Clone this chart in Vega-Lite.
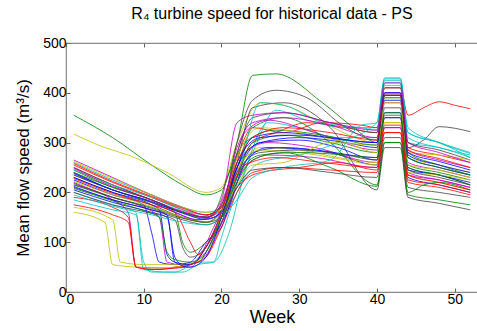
{
"$schema":"https://vega.github.io/schema/vega-lite/v6.json",
"width":412,"height":249,
"autosize":{"type":"none"},
"padding":{"left":66,"top":43,"right":0,"bottom":39},
"background":"white",
"config":{"font":"Liberation Sans","view":{"stroke":"#888888","strokeWidth":1.2}},
"title":{"text":"R₄ turbine speed for historical data - PS","fontSize":16,"fontWeight":"normal","color":"black","offset":14,"anchor":"middle"},
"data":{"values":[
{"s":1,"w":1,"v":240},{"s":1,"w":6,"v":205},{"s":1,"w":11,"v":180},{"s":1,"w":14,"v":160},{"s":1,"w":17,"v":145},{"s":1,"w":19,"v":150},{"s":1,"w":21,"v":190},{"s":1,"w":23,"v":270},{"s":1,"w":25,"v":300},{"s":1,"w":30,"v":305},{"s":1,"w":35,"v":290},{"s":1,"w":40,"v":265},{"s":1,"w":41,"v":360},{"s":1,"w":43,"v":360},{"s":1,"w":44,"v":245},{"s":1,"w":48,"v":235},{"s":1,"w":52,"v":215},
{"s":2,"w":1,"v":355},{"s":2,"w":6,"v":310},{"s":2,"w":11,"v":255},{"s":2,"w":15,"v":215},{"s":2,"w":18,"v":195},{"s":2,"w":20,"v":205},{"s":2,"w":22,"v":300},{"s":2,"w":24,"v":435},{"s":2,"w":27,"v":438},{"s":2,"w":33,"v":380},{"s":2,"w":37,"v":330},{"s":2,"w":40,"v":300},{"s":2,"w":41,"v":395},{"s":2,"w":43,"v":395},{"s":2,"w":44,"v":280},{"s":2,"w":48,"v":255},{"s":2,"w":52,"v":235},
{"s":3,"w":1,"v":250},{"s":3,"w":6,"v":215},{"s":3,"w":11,"v":185},{"s":3,"w":15,"v":160},{"s":3,"w":18,"v":150},{"s":3,"w":20,"v":165},{"s":3,"w":22,"v":240},{"s":3,"w":24,"v":300},{"s":3,"w":27,"v":320},{"s":3,"w":31,"v":340},{"s":3,"w":36,"v":330},{"s":3,"w":40,"v":320},{"s":3,"w":41,"v":410},{"s":3,"w":43,"v":410},{"s":3,"w":44,"v":355},{"s":3,"w":46,"v":370},{"s":3,"w":48,"v":382},{"s":3,"w":50,"v":375},{"s":3,"w":52,"v":368},
{"s":4,"w":1,"v":200},{"s":4,"w":6,"v":175},{"s":4,"w":9,"v":160},{"s":4,"w":10,"v":45},{"s":4,"w":13,"v":40},{"s":4,"w":15,"v":40},{"s":4,"w":17,"v":55},{"s":4,"w":19,"v":60},{"s":4,"w":21,"v":120},{"s":4,"w":23,"v":240},{"s":4,"w":26,"v":340},{"s":4,"w":30,"v":330},{"s":4,"w":35,"v":310},{"s":4,"w":40,"v":310},{"s":4,"w":41,"v":420},{"s":4,"w":43,"v":420},{"s":4,"w":44,"v":300},{"s":4,"w":48,"v":290},{"s":4,"w":52,"v":270},
{"s":5,"w":1,"v":215},{"s":5,"w":6,"v":185},{"s":5,"w":8,"v":160},{"s":5,"w":9,"v":50},{"s":5,"w":13,"v":48},{"s":5,"w":16,"v":50},{"s":5,"w":19,"v":130},{"s":5,"w":21,"v":200},{"s":5,"w":23,"v":280},{"s":5,"w":26,"v":300},{"s":5,"w":32,"v":290},{"s":5,"w":40,"v":260},{"s":5,"w":41,"v":330},{"s":5,"w":43,"v":330},{"s":5,"w":44,"v":240},{"s":5,"w":48,"v":225},{"s":5,"w":52,"v":210},
{"s":6,"w":1,"v":317},{"s":6,"w":5,"v":290},{"s":6,"w":8,"v":275},{"s":6,"w":13,"v":240},{"s":6,"w":18,"v":200},{"s":6,"w":20,"v":210},{"s":6,"w":22,"v":300},{"s":6,"w":25,"v":380},{"s":6,"w":28,"v":375},{"s":6,"w":33,"v":340},{"s":6,"w":40,"v":300},{"s":6,"w":41,"v":390},{"s":6,"w":43,"v":390},{"s":6,"w":44,"v":270},{"s":6,"w":48,"v":255},{"s":6,"w":52,"v":240},
{"s":7,"w":1,"v":230},{"s":7,"w":6,"v":200},{"s":7,"w":11,"v":175},{"s":7,"w":15,"v":150},{"s":7,"w":18,"v":140},{"s":7,"w":20,"v":165},{"s":7,"w":22,"v":300},{"s":7,"w":24,"v":385},{"s":7,"w":27,"v":405},{"s":7,"w":31,"v":390},{"s":7,"w":36,"v":330},{"s":7,"w":40,"v":305},{"s":7,"w":41,"v":400},{"s":7,"w":43,"v":400},{"s":7,"w":44,"v":290},{"s":7,"w":46,"v":305},{"s":7,"w":48,"v":332},{"s":7,"w":52,"v":322},
{"s":8,"w":1,"v":225},{"s":8,"w":6,"v":195},{"s":8,"w":10,"v":175},{"s":8,"w":11,"v":120},{"s":8,"w":12,"v":60},{"s":8,"w":14,"v":55},{"s":8,"w":16,"v":60},{"s":8,"w":18,"v":100},{"s":8,"w":20,"v":130},{"s":8,"w":22,"v":220},{"s":8,"w":24,"v":280},{"s":8,"w":28,"v":290},{"s":8,"w":34,"v":280},{"s":8,"w":40,"v":255},{"s":8,"w":41,"v":350},{"s":8,"w":43,"v":350},{"s":8,"w":44,"v":230},{"s":8,"w":48,"v":215},{"s":8,"w":52,"v":200},
{"s":9,"w":1,"v":245},{"s":9,"w":6,"v":210},{"s":9,"w":11,"v":185},{"s":9,"w":15,"v":160},{"s":9,"w":18,"v":150},{"s":9,"w":20,"v":170},{"s":9,"w":22,"v":250},{"s":9,"w":24,"v":330},{"s":9,"w":28,"v":350},{"s":9,"w":34,"v":300},{"s":9,"w":40,"v":215},{"s":9,"w":41,"v":300},{"s":9,"w":43,"v":300},{"s":9,"w":44,"v":195},{"s":9,"w":48,"v":185},{"s":9,"w":52,"v":175},
{"s":10,"w":1,"v":190},{"s":10,"w":6,"v":170},{"s":10,"w":8,"v":150},{"s":10,"w":9,"v":50},{"s":10,"w":12,"v":45},{"s":10,"w":14,"v":50},{"s":10,"w":16,"v":55},{"s":10,"w":18,"v":90},{"s":10,"w":20,"v":150},{"s":10,"w":22,"v":210},{"s":10,"w":25,"v":240},{"s":10,"w":30,"v":250},{"s":10,"w":35,"v":260},{"s":10,"w":40,"v":245},{"s":10,"w":41,"v":320},{"s":10,"w":43,"v":320},{"s":10,"w":44,"v":225},{"s":10,"w":48,"v":215},{"s":10,"w":52,"v":200},
{"s":11,"w":1,"v":260},{"s":11,"w":6,"v":225},{"s":11,"w":11,"v":195},{"s":11,"w":15,"v":170},{"s":11,"w":18,"v":160},{"s":11,"w":20,"v":170},{"s":11,"w":22,"v":210},{"s":11,"w":24,"v":280},{"s":11,"w":27,"v":365},{"s":11,"w":31,"v":345},{"s":11,"w":36,"v":330},{"s":11,"w":40,"v":330},{"s":11,"w":41,"v":425},{"s":11,"w":43,"v":425},{"s":11,"w":44,"v":310},{"s":11,"w":48,"v":290},{"s":11,"w":52,"v":275},
{"s":12,"w":1,"v":235},{"s":12,"w":6,"v":205},{"s":12,"w":11,"v":180},{"s":12,"w":14,"v":160},{"s":12,"w":17,"v":145},{"s":12,"w":19,"v":155},{"s":12,"w":21,"v":220},{"s":12,"w":23,"v":320},{"s":12,"w":26,"v":345},{"s":12,"w":32,"v":320},{"s":12,"w":40,"v":285},{"s":12,"w":41,"v":380},{"s":12,"w":43,"v":380},{"s":12,"w":44,"v":260},{"s":12,"w":48,"v":245},{"s":12,"w":52,"v":230},
{"s":13,"w":1,"v":160},{"s":13,"w":5,"v":140},{"s":13,"w":6,"v":55},{"s":13,"w":9,"v":50},{"s":13,"w":12,"v":48},{"s":13,"w":14,"v":50},{"s":13,"w":16,"v":55},{"s":13,"w":18,"v":80},{"s":13,"w":20,"v":140},{"s":13,"w":22,"v":240},{"s":13,"w":25,"v":290},{"s":13,"w":30,"v":285},{"s":13,"w":35,"v":270},{"s":13,"w":40,"v":260},{"s":13,"w":41,"v":340},{"s":13,"w":43,"v":340},{"s":13,"w":44,"v":235},{"s":13,"w":48,"v":220},{"s":13,"w":52,"v":205},
{"s":14,"w":1,"v":210},{"s":14,"w":6,"v":185},{"s":14,"w":11,"v":165},{"s":14,"w":15,"v":145},{"s":14,"w":18,"v":135},{"s":14,"w":20,"v":150},{"s":14,"w":22,"v":260},{"s":14,"w":24,"v":370},{"s":14,"w":28,"v":380},{"s":14,"w":34,"v":330},{"s":14,"w":40,"v":205},{"s":14,"w":41,"v":290},{"s":14,"w":43,"v":290},{"s":14,"w":44,"v":190},{"s":14,"w":48,"v":178},{"s":14,"w":52,"v":165},
{"s":15,"w":1,"v":205},{"s":15,"w":6,"v":180},{"s":15,"w":11,"v":160},{"s":15,"w":13,"v":150},{"s":15,"w":14,"v":70},{"s":15,"w":15,"v":55},{"s":15,"w":17,"v":60},{"s":15,"w":19,"v":110},{"s":15,"w":21,"v":170},{"s":15,"w":23,"v":260},{"s":15,"w":26,"v":290},{"s":15,"w":32,"v":285},{"s":15,"w":40,"v":270},{"s":15,"w":41,"v":370},{"s":15,"w":43,"v":370},{"s":15,"w":44,"v":250},{"s":15,"w":48,"v":235},{"s":15,"w":52,"v":220},
{"s":16,"w":1,"v":240},{"s":16,"w":6,"v":210},{"s":16,"w":11,"v":185},{"s":16,"w":14,"v":160},{"s":16,"w":15,"v":100},{"s":16,"w":16,"v":80},{"s":16,"w":18,"v":100},{"s":16,"w":20,"v":140},{"s":16,"w":22,"v":230},{"s":16,"w":24,"v":300},{"s":16,"w":28,"v":315},{"s":16,"w":34,"v":300},{"s":16,"w":40,"v":280},{"s":16,"w":41,"v":360},{"s":16,"w":43,"v":360},{"s":16,"w":44,"v":255},{"s":16,"w":48,"v":240},{"s":16,"w":52,"v":225},
{"s":17,"w":1,"v":255},{"s":17,"w":6,"v":220},{"s":17,"w":11,"v":190},{"s":17,"w":15,"v":165},{"s":17,"w":18,"v":150},{"s":17,"w":20,"v":175},{"s":17,"w":22,"v":270},{"s":17,"w":24,"v":330},{"s":17,"w":28,"v":320},{"s":17,"w":33,"v":340},{"s":17,"w":38,"v":335},{"s":17,"w":40,"v":330},{"s":17,"w":41,"v":395},{"s":17,"w":43,"v":395},{"s":17,"w":44,"v":290},{"s":17,"w":48,"v":275},{"s":17,"w":52,"v":260},
{"s":18,"w":1,"v":185},{"s":18,"w":6,"v":165},{"s":18,"w":9,"v":155},{"s":18,"w":10,"v":60},{"s":18,"w":11,"v":40},{"s":18,"w":14,"v":40},{"s":18,"w":17,"v":60},{"s":18,"w":19,"v":60},{"s":18,"w":20,"v":110},{"s":18,"w":22,"v":200},{"s":18,"w":25,"v":260},{"s":18,"w":30,"v":275},{"s":18,"w":35,"v":300},{"s":18,"w":40,"v":340},{"s":18,"w":41,"v":430},{"s":18,"w":43,"v":430},{"s":18,"w":44,"v":320},{"s":18,"w":48,"v":300},{"s":18,"w":52,"v":280},
{"s":19,"w":1,"v":220},{"s":19,"w":6,"v":190},{"s":19,"w":10,"v":170},{"s":19,"w":12,"v":150},{"s":19,"w":13,"v":60},{"s":19,"w":15,"v":55},{"s":19,"w":17,"v":60},{"s":19,"w":19,"v":100},{"s":19,"w":21,"v":180},{"s":19,"w":23,"v":250},{"s":19,"w":26,"v":275},{"s":19,"w":32,"v":270},{"s":19,"w":40,"v":250},{"s":19,"w":41,"v":330},{"s":19,"w":43,"v":330},{"s":19,"w":44,"v":235},{"s":19,"w":48,"v":225},{"s":19,"w":52,"v":210},
{"s":20,"w":1,"v":170},{"s":20,"w":6,"v":145},{"s":20,"w":7,"v":60},{"s":20,"w":10,"v":55},{"s":20,"w":13,"v":55},{"s":20,"w":15,"v":55},{"s":20,"w":18,"v":70},{"s":20,"w":20,"v":160},{"s":20,"w":22,"v":250},{"s":20,"w":25,"v":285},{"s":20,"w":30,"v":280},{"s":20,"w":36,"v":265},{"s":20,"w":40,"v":255},{"s":20,"w":41,"v":340},{"s":20,"w":43,"v":340},{"s":20,"w":44,"v":240},{"s":20,"w":48,"v":235},{"s":20,"w":52,"v":225},
{"s":21,"w":1,"v":250},{"s":21,"w":6,"v":215},{"s":21,"w":11,"v":185},{"s":21,"w":15,"v":160},{"s":21,"w":18,"v":150},{"s":21,"w":20,"v":175},{"s":21,"w":22,"v":280},{"s":21,"w":24,"v":350},{"s":21,"w":28,"v":360},{"s":21,"w":34,"v":340},{"s":21,"w":40,"v":320},{"s":21,"w":41,"v":410},{"s":21,"w":43,"v":410},{"s":21,"w":44,"v":300},{"s":21,"w":48,"v":285},{"s":21,"w":52,"v":265},
{"s":22,"w":1,"v":230},{"s":22,"w":6,"v":200},{"s":22,"w":11,"v":175},{"s":22,"w":12,"v":165},{"s":22,"w":13,"v":75},{"s":22,"w":14,"v":60},{"s":22,"w":16,"v":55},{"s":22,"w":18,"v":90},{"s":22,"w":20,"v":160},{"s":22,"w":22,"v":250},{"s":22,"w":25,"v":300},{"s":22,"w":30,"v":310},{"s":22,"w":36,"v":300},{"s":22,"w":40,"v":290},{"s":22,"w":41,"v":385},{"s":22,"w":43,"v":385},{"s":22,"w":44,"v":270},{"s":22,"w":48,"v":250},{"s":22,"w":52,"v":235},
{"s":23,"w":1,"v":215},{"s":23,"w":6,"v":190},{"s":23,"w":11,"v":170},{"s":23,"w":15,"v":150},{"s":23,"w":18,"v":140},{"s":23,"w":20,"v":160},{"s":23,"w":22,"v":220},{"s":23,"w":24,"v":265},{"s":23,"w":28,"v":280},{"s":23,"w":34,"v":250},{"s":23,"w":40,"v":212},{"s":23,"w":41,"v":300},{"s":23,"w":43,"v":300},{"s":23,"w":44,"v":200},{"s":23,"w":46,"v":215},{"s":23,"w":48,"v":220},{"s":23,"w":52,"v":205},
{"s":24,"w":1,"v":175},{"s":24,"w":6,"v":155},{"s":24,"w":8,"v":140},{"s":24,"w":9,"v":50},{"s":24,"w":11,"v":45},{"s":24,"w":14,"v":48},{"s":24,"w":16,"v":55},{"s":24,"w":18,"v":70},{"s":24,"w":20,"v":130},{"s":24,"w":22,"v":200},{"s":24,"w":24,"v":240},{"s":24,"w":28,"v":250},{"s":24,"w":34,"v":245},{"s":24,"w":40,"v":240},{"s":24,"w":41,"v":320},{"s":24,"w":43,"v":320},{"s":24,"w":44,"v":220},{"s":24,"w":48,"v":210},{"s":24,"w":52,"v":195},
{"s":25,"w":1,"v":245},{"s":25,"w":6,"v":215},{"s":25,"w":11,"v":190},{"s":25,"w":15,"v":165},{"s":25,"w":18,"v":155},{"s":25,"w":20,"v":165},{"s":25,"w":22,"v":230},{"s":25,"w":25,"v":380},{"s":25,"w":28,"v":375},{"s":25,"w":33,"v":340},{"s":25,"w":38,"v":330},{"s":25,"w":40,"v":325},{"s":25,"w":41,"v":415},{"s":25,"w":43,"v":415},{"s":25,"w":44,"v":320},{"s":25,"w":48,"v":300},{"s":25,"w":52,"v":270},
{"s":26,"w":1,"v":265},{"s":26,"w":6,"v":230},{"s":26,"w":11,"v":195},{"s":26,"w":15,"v":170},{"s":26,"w":18,"v":155},{"s":26,"w":20,"v":170},{"s":26,"w":22,"v":290},{"s":26,"w":24,"v":340},{"s":26,"w":28,"v":350},{"s":26,"w":34,"v":335},{"s":26,"w":40,"v":310},{"s":26,"w":41,"v":400},{"s":26,"w":43,"v":400},{"s":26,"w":44,"v":285},{"s":26,"w":48,"v":265},{"s":26,"w":52,"v":250},
{"s":27,"w":1,"v":262},{"s":27,"w":6,"v":228},{"s":27,"w":11,"v":195},{"s":27,"w":15,"v":170},{"s":27,"w":18,"v":160},{"s":27,"w":20,"v":165},{"s":27,"w":22,"v":215},{"s":27,"w":24,"v":255},{"s":27,"w":28,"v":260},{"s":27,"w":34,"v":300},{"s":27,"w":40,"v":295},{"s":27,"w":41,"v":380},{"s":27,"w":43,"v":380},{"s":27,"w":44,"v":280},{"s":27,"w":48,"v":275},{"s":27,"w":52,"v":265},
{"s":28,"w":1,"v":200},{"s":28,"w":6,"v":175},{"s":28,"w":11,"v":158},{"s":28,"w":14,"v":145},{"s":28,"w":15,"v":90},{"s":28,"w":16,"v":70},{"s":28,"w":18,"v":90},{"s":28,"w":20,"v":150},{"s":28,"w":22,"v":240},{"s":28,"w":25,"v":280},{"s":28,"w":30,"v":285},{"s":28,"w":36,"v":275},{"s":28,"w":40,"v":265},{"s":28,"w":41,"v":350},{"s":28,"w":43,"v":350},{"s":28,"w":44,"v":245},{"s":28,"w":48,"v":230},{"s":28,"w":52,"v":215},
{"s":29,"w":1,"v":212},{"s":29,"w":6,"v":185},{"s":29,"w":11,"v":165},{"s":29,"w":13,"v":155},{"s":29,"w":14,"v":60},{"s":29,"w":16,"v":50},{"s":29,"w":18,"v":70},{"s":29,"w":20,"v":150},{"s":29,"w":22,"v":260},{"s":29,"w":25,"v":310},{"s":29,"w":30,"v":315},{"s":29,"w":36,"v":305},{"s":29,"w":40,"v":300},{"s":29,"w":41,"v":395},{"s":29,"w":43,"v":395},{"s":29,"w":44,"v":275},{"s":29,"w":48,"v":255},{"s":29,"w":52,"v":240},
{"s":30,"w":1,"v":235},{"s":30,"w":6,"v":205},{"s":30,"w":11,"v":180},{"s":30,"w":15,"v":160},{"s":30,"w":17,"v":150},{"s":30,"w":19,"v":160},{"s":30,"w":21,"v":240},{"s":30,"w":23,"v":300},{"s":30,"w":27,"v":325},{"s":30,"w":33,"v":315},{"s":30,"w":40,"v":295},{"s":30,"w":41,"v":390},{"s":30,"w":43,"v":390},{"s":30,"w":44,"v":270},{"s":30,"w":48,"v":250},{"s":30,"w":52,"v":235},
{"s":31,"w":1,"v":228},{"s":31,"w":6,"v":198},{"s":31,"w":11,"v":175},{"s":31,"w":14,"v":160},{"s":31,"w":16,"v":100},{"s":31,"w":17,"v":75},{"s":31,"w":19,"v":120},{"s":31,"w":21,"v":200},{"s":31,"w":23,"v":255},{"s":31,"w":27,"v":270},{"s":31,"w":33,"v":260},{"s":31,"w":40,"v":250},{"s":31,"w":41,"v":335},{"s":31,"w":43,"v":335},{"s":31,"w":44,"v":235},{"s":31,"w":48,"v":220},{"s":31,"w":52,"v":205},
{"s":32,"w":1,"v":195},{"s":32,"w":6,"v":172},{"s":32,"w":11,"v":155},{"s":32,"w":15,"v":140},{"s":32,"w":18,"v":135},{"s":32,"w":20,"v":150},{"s":32,"w":22,"v":185},{"s":32,"w":24,"v":230},{"s":32,"w":28,"v":250},{"s":32,"w":34,"v":265},{"s":32,"w":38,"v":335},{"s":32,"w":40,"v":340},{"s":32,"w":41,"v":428},{"s":32,"w":43,"v":428},{"s":32,"w":44,"v":330},{"s":32,"w":48,"v":300},{"s":32,"w":52,"v":278},
{"s":33,"w":1,"v":248},{"s":33,"w":6,"v":212},{"s":33,"w":11,"v":185},{"s":33,"w":15,"v":162},{"s":33,"w":18,"v":150},{"s":33,"w":20,"v":185},{"s":33,"w":22,"v":340},{"s":33,"w":24,"v":355},{"s":33,"w":28,"v":360},{"s":33,"w":34,"v":340},{"s":33,"w":40,"v":325},{"s":33,"w":41,"v":420},{"s":33,"w":43,"v":420},{"s":33,"w":44,"v":300},{"s":33,"w":48,"v":280},{"s":33,"w":52,"v":260},
{"s":34,"w":1,"v":222},{"s":34,"w":6,"v":195},{"s":34,"w":11,"v":172},{"s":34,"w":15,"v":150},{"s":34,"w":18,"v":140},{"s":34,"w":20,"v":160},{"s":34,"w":22,"v":270},{"s":34,"w":25,"v":330},{"s":34,"w":30,"v":320},{"s":34,"w":36,"v":300},{"s":34,"w":40,"v":280},{"s":34,"w":41,"v":370},{"s":34,"w":43,"v":370},{"s":34,"w":44,"v":255},{"s":34,"w":48,"v":245},{"s":34,"w":52,"v":230},
{"s":35,"w":1,"v":218},{"s":35,"w":6,"v":190},{"s":35,"w":11,"v":168},{"s":35,"w":15,"v":148},{"s":35,"w":18,"v":140},{"s":35,"w":20,"v":150},{"s":35,"w":22,"v":210},{"s":35,"w":24,"v":245},{"s":35,"w":28,"v":250},{"s":35,"w":34,"v":240},{"s":35,"w":40,"v":230},{"s":35,"w":41,"v":310},{"s":35,"w":43,"v":310},{"s":35,"w":44,"v":210},{"s":35,"w":48,"v":200},{"s":35,"w":52,"v":190},
{"s":36,"w":1,"v":238},{"s":36,"w":6,"v":205},{"s":36,"w":11,"v":182},{"s":36,"w":15,"v":158},{"s":36,"w":18,"v":146},{"s":36,"w":20,"v":160},{"s":36,"w":22,"v":250},{"s":36,"w":24,"v":310},{"s":36,"w":28,"v":320},{"s":36,"w":34,"v":310},{"s":36,"w":40,"v":300},{"s":36,"w":41,"v":400},{"s":36,"w":43,"v":400},{"s":36,"w":44,"v":280},{"s":36,"w":48,"v":262},{"s":36,"w":52,"v":245},
{"s":37,"w":1,"v":208},{"s":37,"w":6,"v":183},{"s":37,"w":10,"v":163},{"s":37,"w":12,"v":150},{"s":37,"w":13,"v":80},{"s":37,"w":14,"v":65},{"s":37,"w":16,"v":60},{"s":37,"w":18,"v":80},{"s":37,"w":20,"v":150},{"s":37,"w":22,"v":230},{"s":37,"w":25,"v":275},{"s":37,"w":30,"v":280},{"s":37,"w":36,"v":275},{"s":37,"w":40,"v":270},{"s":37,"w":41,"v":355},{"s":37,"w":43,"v":355},{"s":37,"w":44,"v":250},{"s":37,"w":48,"v":235},{"s":37,"w":52,"v":215},
{"s":38,"w":1,"v":258},{"s":38,"w":6,"v":222},{"s":38,"w":11,"v":192},{"s":38,"w":15,"v":168},{"s":38,"w":18,"v":155},{"s":38,"w":20,"v":170},{"s":38,"w":22,"v":260},{"s":38,"w":24,"v":310},{"s":38,"w":28,"v":330},{"s":38,"w":34,"v":320},{"s":38,"w":40,"v":305},{"s":38,"w":41,"v":395},{"s":38,"w":43,"v":395},{"s":38,"w":44,"v":285},{"s":38,"w":48,"v":268},{"s":38,"w":52,"v":250}
]},
"layer":[
{"mark":{"type":"line","strokeWidth":0.8,"interpolate":"monotone","clip":true},
"encoding":{
"x":{"field":"w","type":"quantitative","scale":{"domain":[0,53],"nice":false},
"axis":{"title":"Week","titleFontSize":18,"titleFontWeight":"normal","titleColor":"black","titlePadding":2,"values":[0,10,20,30,40,50],"labelFontSize":14,"labelColor":"black","domain":false,"grid":false,"tickSize":-4,"tickColor":"#666666","labelPadding":4}},
"y":{"field":"v","type":"quantitative","scale":{"domain":[0,500],"nice":false},
"axis":{"title":"Mean flow speed (m³/s)","titleFontSize":17,"titleFontWeight":"normal","titleColor":"black","titlePadding":10,"values":[0,100,200,300,400,500],"labelFontSize":14,"labelColor":"black","domain":false,"grid":false,"tickSize":-4,"tickColor":"#666666","labelPadding":4}},
"detail":{"field":"s","type":"nominal"},
"color":{"field":"s","type":"nominal","legend":null,"scale":{"domain":[1,2,3,4,5,6,7,8,9,10,11,12,13,14,15,16,17,18,19,20,21,22,23,24,25,26,27,28,29,30,31,32,33,34,35,36,37,38],
"range":["#0000FF","#008000","#FF0000","#00BFBF","#BF00BF","#BFBF00","#404040","#0000FF","#008000","#FF0000","#00BFBF","#BF00BF","#BFBF00","#404040","#0000FF","#008000","#FF0000","#00BFBF","#BF00BF","#BFBF00","#404040","#0000FF","#008000","#FF0000","#00BFBF","#BF00BF","#BFBF00","#404040","#0000FF","#008000","#FF0000","#00BFBF","#BF00BF","#BFBF00","#404040","#0000FF","#008000","#FF0000"]}}
}},
{"mark":{"type":"line","strokeOpacity":0},
"encoding":{
"x":{"field":"w","type":"quantitative","axis":{"orient":"top","labels":false,"title":null,"values":[0,10,20,30,40,50],"domain":false,"grid":false,"tickSize":-4,"tickColor":"#666666"}},
"y":{"field":"v","type":"quantitative","axis":null},
"detail":{"field":"s","type":"nominal"}
}}
],
"resolve":{"axis":{"x":"independent","y":"independent"}}
}
